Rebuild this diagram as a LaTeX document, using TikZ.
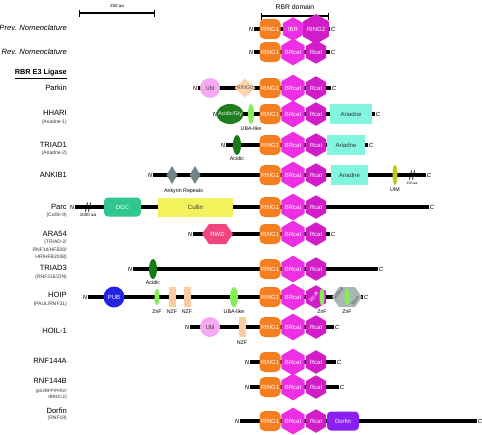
\documentclass[tikz,border=0pt]{standalone}
\usepackage{fontspec}
\setmainfont{Liberation Sans}
\usepackage{tikz}
\usetikzlibrary{positioning,arrows.meta,calc,shapes.geometric,shapes.symbols}

\definecolor{ringone}{HTML}{F57F20}
\definecolor{brcol}{HTML}{EE2EE4}
\definecolor{rccol}{HTML}{D21CC8}
\definecolor{ublcol}{HTML}{F6A9F2}
\definecolor{ringzero}{HTML}{FBD3AD}
\definecolor{acidgly}{HTML}{1F7D1F}
\definecolor{ubacol}{HTML}{86EE55}
\definecolor{acidcol}{HTML}{167A16}
\definecolor{ariadne}{HTML}{82F5E1}
\definecolor{ankcol}{HTML}{708585}
\definecolor{uimcol}{HTML}{C6C31C}
\definecolor{doccol}{HTML}{2FC78F}
\definecolor{cullin}{HTML}{F2F25C}
\definecolor{rwdcol}{HTML}{F3457D}
\definecolor{pubcol}{HTML}{2323E4}
\definecolor{nzfcol}{HTML}{FBCBA3}
\definecolor{helcol}{HTML}{ACB6B6}
\definecolor{dorfcol}{HTML}{8A1FF2}

\begin{document}
\begin{tikzpicture}[
      x=1pt, y=-1pt,
      >=latex,
      auto
    ]

    \tikzstyle{protlab} = [anchor=east, inner sep=0pt, font=\fontsize{7.6}{8}\selectfont]
    \tikzstyle{sublab} = [anchor=east, inner sep=0pt, align=right, text=black!80, font=\fontsize{5}{7.7}\selectfont]
    \tikzstyle{endlab} = [inner sep=0.8pt, font=\fontsize{6}{6}\selectfont\itshape]
    \tikzstyle{note} = [inner sep=0pt, font=\fontsize{5.3}{6}\selectfont]
    \tikzstyle{bb} = [line width=3.6pt]
    \tikzstyle{scalebar} = [line width=1.4pt, {Bar[width=7pt]}-{Bar[width=7pt]}]
    \tikzstyle{brk} = [line width=0.8pt]
    \tikzstyle{dom} = [inner sep=0pt, text=white, font=\fontsize{6}{6.5}\selectfont]
    \tikzstyle{dtxt} = [inner sep=0pt, text=white, font=\fontsize{5.4}{6}\selectfont]
    \tikzstyle{ring} = [dom, rectangle, rounded corners=5pt, fill=ringone, minimum width=21pt, minimum height=20pt]
    \tikzstyle{hexa} = [dom, regular polygon, regular polygon sides=6, shape border rotate=30, minimum size=23.5pt]
    \tikzstyle{brcat} = [hexa, fill=brcol]
    \tikzstyle{rcat} = [hexa, fill=rccol]
    \tikzstyle{oval} = [dom, ellipse, minimum height=20pt]
    \tikzstyle{slab} = [dom, rectangle, minimum height=20pt]
    \tikzstyle{sixside} = [dom, signal, signal to=west and east, signal pointer angle=110, minimum height=20pt]

    \useasboundingbox (0,0) rectangle (482,434);

    % scale bars
    \coordinate (sbl) at (79,13);
    \coordinate (sbr) at (155,13);
    \draw [scalebar] (sbl) -- (sbr) node[note, midway, above=5pt, font=\fontsize{4.5}{5}\selectfont] (sbt) {250 aa};
    \coordinate (rbl) at (261,16);
    \coordinate (rbr) at (329,16);
    \draw [scalebar] (rbl) -- (rbr) node[note, midway, above=6pt, font=\fontsize{6.8}{7}\selectfont] (rbrt) {RBR domain};

    % nomenclature
    \node [protlab, font=\fontsize{7.6}{8}\selectfont\itshape] (prev) at (67,28) {Prev. Nomenclature};
    \node [endlab] (pvN) at (251,29) {N};
    \node [endlab] (pvC) at (333,29) {C};
    \draw [bb] (pvN) -- (pvC);
    \node [ring] (pvr1) at (270,29) {RING1};
    \node [brcat] (pvibr) at (293,29) {IBR};
    \node [rcat] (pvr2) at (316,29) {RING2};

    \node [protlab, font=\fontsize{7.6}{8}\selectfont\itshape] (rev) at (67,52) {Rev. Nomenclature};
    \node [endlab] (rvN) at (251,52) {N};
    \node [endlab] (rvC) at (333,52) {C};
    \draw [bb] (rvN) -- (rvC);
    \node [ring] (rvr1) at (270,52) {RING1};
    \node [brcat] (rvbr) at (293,52) {BRcat};
    \node [rcat] (rvrc) at (316,52) {Rcat};

    \node [protlab, font=\fontsize{7.3}{8}\selectfont\bfseries] (rbre3) at (67,74) {\underline{RBR E3 Ligase}};

    % Parkin
    \node [protlab] (parkin) at (67,88) {Parkin};
    \node [endlab] (pkN) at (195,88) {N};
    \node [endlab] (pkC) at (334,88) {C};
    \draw [bb] (pkN) -- (pkC);
    \node [dom, circle, fill=ublcol, text=black!75, minimum size=20pt] (pkubl) at (210,88) {Ubl};
    \node [diamond, fill=ringzero, inner sep=0pt, minimum width=21pt, minimum height=19pt, label={[dtxt, text=black!65]center:RING0}] (pkr0) at (245,88) {};
    \node [ring] (pkr1) at (270,88) {RING1};
    \node [brcat] (pkbr) at (293,88) {BRcat};
    \node [rcat] (pkrc) at (316,88) {Rcat};

    % HHARI
    \node [protlab] (hhari) at (67,113) {HHARI};
    \node [sublab] (hhsub) at (67,122) {(Ariadne-1)};
    \node [endlab] (hhN) at (215,114) {N};
    \node [endlab] (hhC) at (378,114) {C};
    \draw [bb] (hhN) -- (hhC);
    \node [oval, fill=acidgly, minimum width=27pt, label={[dtxt]center:Acidic/Gly}] (hhac) at (230,114) {};
    \node [oval, fill=ubacol, minimum width=6pt] (hhuba) at (251,114) {};
    \node [note] (hhubal) [below=2pt of hhuba] {UBA-like};
    \node [ring] (hhr1) at (270,114) {RING1};
    \node [brcat] (hhbr) at (293,114) {BRcat};
    \node [rcat] (hhrc) at (316,114) {Rcat};
    \node [slab, fill=ariadne, text=black!80, minimum width=42pt] (hhari) at (351,114) {Ariadne};

    % TRIAD1
    \node [protlab] (triad1) at (67,145) {TRIAD1};
    \node [sublab] (t1sub) at (67,153) {(Ariadne-2)};
    \node [endlab] (t1N) at (223,145) {N};
    \node [endlab] (t1C) at (371,145) {C};
    \draw [bb] (t1N) -- (t1C);
    \node [oval, fill=acidcol, minimum width=8pt] (t1ac) at (237,145) {};
    \node [note] (t1acl) [below=1.5pt of t1ac] {Acidic};
    \node [ring] (t1r1) at (270,145) {RING1};
    \node [brcat] (t1br) at (293,145) {BRcat};
    \node [rcat] (t1rc) at (316,145) {Rcat};
    \node [slab, fill=ariadne, text=black!80, minimum width=38pt] (t1ari) at (346,145) {Ariadne};

    % ANKIB1
    \node [protlab] (ankib1) at (67,175) {ANKIB1};
    \node [endlab] (akN) at (150,175) {N};
    \node [endlab] (akC) at (429,175) {C};
    \draw [bb] (akN) -- (akC);
    \node [diamond, fill=ankcol, inner sep=0pt, minimum width=11pt, minimum height=18pt] (akd1) at (172,175) {};
    \node [diamond, fill=ankcol, inner sep=0pt, minimum width=11pt, minimum height=18pt] (akd2) at (195,175) {};
    \node [note] (akrep) at ($(akd1)!0.5!(akd2)+(0,16)$) {Ankyrin Repeats};
    \node [ring] (akr1) at (270,175) {RING1};
    \node [brcat] (akbr) at (293,175) {BRcat};
    \node [rcat] (akrc) at (316,175) {Rcat};
    \node [slab, fill=ariadne, text=black!80, minimum width=37pt] (akari) at (349.5,175) {Ariadne};
    \node [oval, fill=uimcol, minimum width=5pt] (akuim) at (395,175) {};
    \node [note] (akuiml) [below=2.5pt of akuim] {UIM};
    \coordinate (akbrk) at (412,175);
    \draw [brk] ($(akbrk)+(-2.5,4.5)$) -- ($(akbrk)+(-0.5,-4.5)$);
    \draw [brk] ($(akbrk)+(0.5,4.5)$) -- ($(akbrk)+(2.5,-4.5)$);
    \node [note, font=\fontsize{3.5}{4}\selectfont] (akaa) at (412,183) {150 aa};

    % Parc
    \node [protlab] (parc) at (67,207) {Parc};
    \node [sublab] (pcsub) at (67,215) {(Cullin-9)};
    \node [endlab] (pcN) at (72,207) {N};
    \node [endlab] (pcC) at (432,207) {C};
    \draw [bb] (pcN) -- (pcC);
    \coordinate (pcbrk) at (88,207);
    \draw [brk] ($(pcbrk)+(-2.5,4.5)$) -- ($(pcbrk)+(-0.5,-4.5)$);
    \draw [brk] ($(pcbrk)+(0.5,4.5)$) -- ($(pcbrk)+(2.5,-4.5)$);
    \node [note, font=\fontsize{4.5}{5}\selectfont] (pcaa) at (88,215) {1000 aa};
    \node [slab, rounded corners=4pt, fill=doccol, minimum width=37pt, minimum height=19pt] (pcdoc) at (122.5,207) {DOC};
    \node [slab, fill=cullin, text=black!80, minimum width=75pt, minimum height=19pt] (pccul) at (195.5,207) {Cullin};
    \node [ring] (pcr1) at (270,207) {RING1};
    \node [brcat] (pcbr) at (293,207) {BRcat};
    \node [rcat] (pcrc) at (316,207) {Rcat};

    % ARA54
    \node [protlab] (ara54) at (67,234) {ARA54};
    \node [sublab] (arsub) at (67,250) {(TRIAD-2/\\RNF14/HFB30/\\HRIHFB2038)};
    \node [endlab] (arN) at (190,234) {N};
    \node [endlab] (arC) at (333,234) {C};
    \draw [bb] (arN) -- (arC);
    \node [sixside, fill=rwdcol, minimum width=31pt] (arrwd) at (217.5,234) {RWD};
    \node [ring] (arr1) at (270,234) {RING1};
    \node [brcat] (arbr) at (293,234) {BRcat};
    \node [rcat] (arrc) at (316,234) {Rcat};

    % TRIAD3
    \node [protlab] (triad3) at (67,268) {TRIAD3};
    \node [sublab] (t3sub) at (67,277) {(RNF216/ZIN)};
    \node [endlab] (t3N) at (130,269) {N};
    \node [endlab] (t3C) at (381,269) {C};
    \draw [bb] (t3N) -- (t3C);
    \node [oval, fill=acidcol, minimum width=8pt] (t3ac) at (153,269) {};
    \node [note] (t3acl) [below=1.5pt of t3ac] {Acidic};
    \node [ring] (t3r1) at (270,269) {RING1};
    \node [brcat] (t3br) at (293,269) {BRcat};
    \node [rcat] (t3rc) at (316,269) {Rcat};

    % HOIP
    \node [protlab] (hoip) at (67,295) {HOIP};
    \node [sublab] (hosub) at (67,304) {(PAUL/RNF31)};
    \node [endlab] (hoN) at (85,297) {N};
    \node [endlab] (hoC) at (366,297) {C};
    \draw [bb] (hoN) -- (hoC);
    \node [dom, circle, fill=pubcol, minimum size=21pt] (hopub) at (114,297) {PUB};
    \node [oval, fill=ubacol, minimum width=5pt, minimum height=16pt] (hozf1) at (157,297) {};
    \node [slab, fill=nzfcol, minimum width=7pt] (honzf1) at (172,297) {};
    \node [slab, fill=nzfcol, minimum width=7pt] (honzf2) at (187,297) {};
    \node [oval, fill=ubacol, minimum width=8pt] (houba) at (234,297) {};
    \node [ring] (hor1) at (270,297) {RING1};
    \node [brcat] (hobr) at (293,297) {BRcat};
    \node [rcat, label={[dtxt, rotate=55, xshift=-1pt, yshift=2pt]center:Rcat}] (horc) at (316,297) {};
    \node [oval, fill=ubacol, minimum width=5pt, minimum height=17pt] (hozf2) at (322,297) {};
    \node [sixside, fill=helcol, minimum width=30pt] (hohel) at (347,297) {};
    \node [dtxt, text=black!70, rotate=55, font=\fontsize{4.3}{5}\selectfont] (hohelt) at (338.5,293) {Helical};
    \node [oval, fill=ubacol, minimum width=5pt, minimum height=17pt] (hozf3) at (347,297) {};
    \node [dtxt, text=black!70, rotate=55, font=\fontsize{4.3}{5}\selectfont] (hobase) at (355,301) {Base};
    \node [note] (hozf1l) at (157,312) {ZnF};
    \node [note] (honzf1l) at (172,312) {NZF};
    \node [note] (honzf2l) at (187,312) {NZF};
    \node [note] (houbal) at (234,312) {UBA-like};
    \node [note] (hozf2l) at (322,312) {ZnF};
    \node [note] (hozf3l) at (347,312) {ZnF};

    % HOIL-1
    \node [protlab] (hoil1) at (67,331) {HOIL-1};
    \node [endlab] (hlN) at (187,327) {N};
    \node [endlab] (hlC) at (337,327) {C};
    \draw [bb] (hlN) -- (hlC);
    \node [dom, circle, fill=ublcol, text=black!75, minimum size=20pt] (hlubl) at (210,327) {Ubl};
    \node [slab, fill=nzfcol, minimum width=7pt] (hlnzf) at (242,327) {};
    \node [note] (hlnzfl) [below=3pt of hlnzf] {NZF};
    \node [ring] (hlr1) at (270,327) {RING1};
    \node [brcat] (hlbr) at (293,327) {BRcat};
    \node [rcat] (hlrc) at (316,327) {Rcat};

    % RNF144A
    \node [protlab] (r144a) at (67,361) {RNF144A};
    \node [endlab] (raN) at (247,362) {N};
    \node [endlab] (raC) at (339,362) {C};
    \draw [bb] (raN) -- (raC);
    \node [ring] (rar1) at (270,362) {RING1};
    \node [brcat] (rabr) at (293,362) {BRcat};
    \node [rcat] (rarc) at (316,362) {Rcat};

    % RNF144B
    \node [protlab] (r144b) at (67,381) {RNF144B};
    \node [sublab, font=\fontsize{4.6}{5.6}\selectfont] (rbsub) at (67,394.5) {(p53RFP/PIR2/\\IBRDC2)};
    \node [endlab] (rbN) at (247,387) {N};
    \node [endlab] (rbC) at (342,387) {C};
    \draw [bb] (rbN) -- (rbC);
    \node [ring] (rbr1) at (270,387) {RING1};
    \node [brcat] (rbbr) at (293,387) {BRcat};
    \node [rcat] (rbrc) at (316,387) {Rcat};

    % Dorfin
    \node [protlab] (dorfin) at (67,411) {Dorfin};
    \node [sublab] (dfsub) at (67,418) {(RNF19)};
    \node [endlab] (dfN) at (237,421) {N};
    \node [endlab] (dfC) at (480,421) {C};
    \draw [bb] (dfN) -- (dfC);
    \node [ring] (dfr1) at (270,421) {RING1};
    \node [brcat] (dfbr) at (293,421) {BRcat};
    \node [rcat] (dfrc) at (316,421) {Rcat};
    \node [slab, rounded corners=4pt, fill=dorfcol, minimum width=32pt, minimum height=19pt] (dfdor) at (343,421) {Dorfin};

\end{tikzpicture}
\end{document}
